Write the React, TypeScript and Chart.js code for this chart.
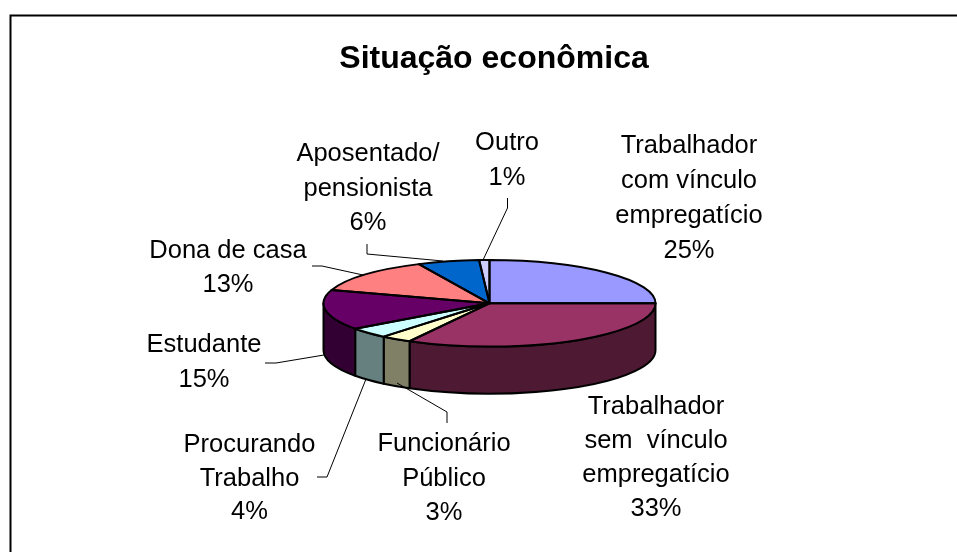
import React, { useEffect, useRef } from "react";
import { Chart, registerables } from "chart.js";

Chart.register(...registerables);

const chartTitle = "Situação econômica";
const categoryLines = [
  ["Trabalhador", "com vínculo", "empregatício"],
  ["Trabalhador", "sem  vínculo", "empregatício"],
  ["Funcionário", "Público"],
  ["Procurando", "Trabalho"],
  ["Estudante"],
  ["Dona de casa"],
  ["Aposentado/", "pensionista"],
  ["Outro"],
];
const shares = [25, 33, 3, 4, 15, 13, 6, 1];
const topColors = ["#9999FF", "#993366", "#FFFFCC", "#CCFFFF", "#660066", "#FF8080", "#0066CC", "#CCCCFF"];
const sideColors = ["#4D4D80", "#4D1933", "#808066", "#668080", "#330033", "#804040", "#003366", "#666680"];

// label block anchors: centre x, first baseline y, line pitch
const labelAnchors = [
  [689, 153, 35],
  [656, 414, 34],
  [444, 451, 34.5],
  [249.5, 452, 33.5],
  [204, 352, 35],
  [228, 258, 33.5],
  [368, 161, 34.5],
  [507, 150, 34.5],
];
const leaderLines = [
  null,
  null,
  [[447, 423], [447, 412], [397, 383]],
  [[317, 477], [327, 477], [366, 379]],
  [[265, 363], [276, 363], [324, 355]],
  [[312, 266], [322, 266], [363, 275]],
  [[367, 244], [367, 254], [443, 261]],
  [[507.5, 198], [507.5, 208], [483, 260]],
];

const PIE_X = 489.5;
const PIE_Y = 303.3;
const PIE_R = 166;
const PIE_SQUASH = 43.3 / 166;
const PIE_DEPTH = 47;

const piePlugin = {
  id: "pie3d",
  beforeDatasetsDraw(chart: any) {
    const ctx = chart.ctx;
    const arcs = chart.getDatasetMeta(0).data;
    const ry = PIE_R * PIE_SQUASH;
    ctx.save();
    ctx.lineWidth = 2;
    ctx.lineJoin = "round";
    ctx.strokeStyle = "#000";
    arcs.forEach((arc: any, i: number) => {
      const { startAngle, endAngle } = arc.getProps(["startAngle", "endAngle"], true);
      const a0 = Math.max(startAngle, 0);
      const a1 = Math.min(endAngle, Math.PI);
      if (a1 <= a0) return;
      ctx.beginPath();
      ctx.ellipse(PIE_X, PIE_Y, PIE_R, ry, 0, a0, a1, false);
      ctx.ellipse(PIE_X, PIE_Y + PIE_DEPTH, PIE_R, ry, 0, a1, a0, true);
      ctx.closePath();
      ctx.fillStyle = sideColors[i];
      ctx.fill();
      ctx.stroke();
    });
    ctx.restore();
    const first = arcs[0].getProps(["x", "y"], true);
    ctx.save();
    ctx.translate(PIE_X, PIE_Y);
    ctx.scale(1, PIE_SQUASH);
    ctx.translate(-first.x, -first.y);
  },
  afterDatasetsDraw(chart: any) {
    const ctx = chart.ctx;
    ctx.restore();
    const arcs = chart.getDatasetMeta(0).data;
    const ry = PIE_R * PIE_SQUASH;
    ctx.save();
    ctx.lineWidth = 2;
    ctx.lineJoin = "round";
    ctx.strokeStyle = "#000";
    arcs.forEach((arc: any) => {
      const { startAngle, endAngle } = arc.getProps(["startAngle", "endAngle"], true);
      ctx.beginPath();
      ctx.moveTo(PIE_X, PIE_Y);
      ctx.ellipse(PIE_X, PIE_Y, PIE_R, ry, 0, startAngle, endAngle, false);
      ctx.closePath();
      ctx.stroke();
    });
    ctx.restore();
  },
  afterDraw(chart: any) {
    const ctx = chart.ctx;
    ctx.save();
    ctx.strokeStyle = "#000";
    ctx.lineWidth = 2;
    ctx.beginPath();
    ctx.moveTo(10.5, 552);
    ctx.lineTo(10.5, 15.5);
    ctx.lineTo(957, 15.5);
    ctx.stroke();
    ctx.lineWidth = 1;
    leaderLines.forEach((pts) => {
      if (!pts) return;
      ctx.beginPath();
      pts.forEach(([x, y], k) => (k ? ctx.lineTo(x, y) : ctx.moveTo(x, y)));
      ctx.stroke();
    });
    ctx.fillStyle = "#000";
    ctx.font = "25.5px 'Liberation Sans'";
    ctx.textAlign = "center";
    ctx.textBaseline = "alphabetic";
    categoryLines.forEach((lines, i) => {
      const [x, y, pitch] = labelAnchors[i];
      [...lines, `${shares[i]}%`].forEach((t, k) => ctx.fillText(t, x, y + k * pitch));
    });
    ctx.restore();
  },
};

export default function App() {
  const ref = useRef<HTMLCanvasElement>(null);
  useEffect(() => {
    const chart = new Chart(ref.current as HTMLCanvasElement, {
      type: "pie",
      data: {
        labels: categoryLines.map((l) => l.join(" ")),
        datasets: [
          {
            data: shares,
            backgroundColor: topColors,
            borderWidth: 0,
            radius: PIE_R,
            clip: false,
          } as any,
        ],
      },
      options: {
        animation: false,
        responsive: false,
        layout: { padding: { left: 31, right: 0, top: 40, bottom: 0 } },
        plugins: {
          legend: { display: false },
          tooltip: { enabled: false },
          title: {
            display: true,
            text: chartTitle,
            color: "#000",
            font: { family: "'Liberation Sans'", size: 32, weight: "bold" },
            padding: 0,
          },
        },
      },
      plugins: [piePlugin],
    });
    return () => chart.destroy();
  }, []);
  return (
    <div style={{ position: "fixed", left: 0, top: 0, width: 957, height: 552, background: "#fff" }}>
      <canvas ref={ref} width={957} height={552} style={{ display: "block" }} />
    </div>
  );
}
